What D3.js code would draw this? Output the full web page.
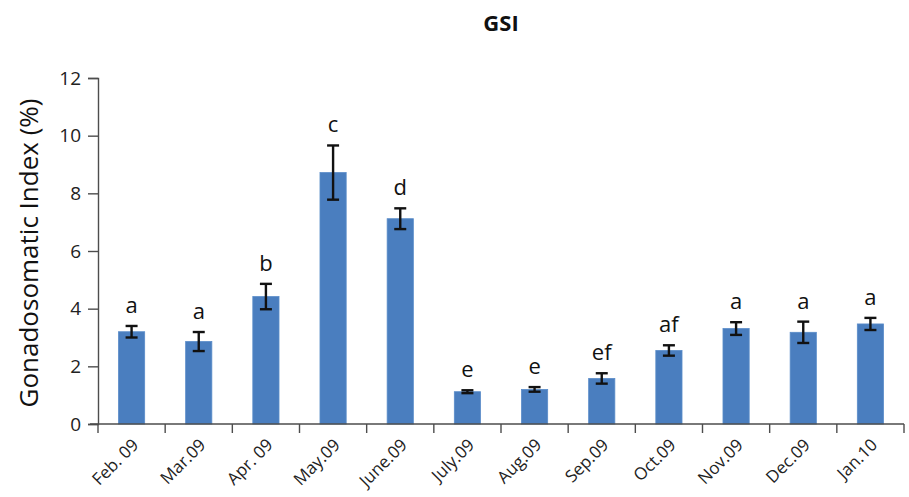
<!DOCTYPE html>
<html><head><meta charset="utf-8">
<script src="https://cdn.jsdelivr.net/npm/d3@7"></script>
<style>body{margin:0;background:#fff}svg{display:block}</style>
</head><body>
<svg id="c" width="909" height="497"></svg>
<script>
const categories = ["Feb. 09","Mar.09","Apr. 09","May.09","June.09","July.09","Aug.09","Sep.09","Oct.09","Nov.09","Dec.09","Jan.10"];
const values = [3.2, 2.86, 4.42, 8.72, 7.12, 1.12, 1.2, 1.58, 2.55, 3.31, 3.18, 3.47];
const errors = [0.2, 0.33, 0.44, 0.94, 0.36, 0.05, 0.08, 0.18, 0.18, 0.22, 0.37, 0.21];
const letters = ["a","a","b","c","d","e","e","ef","af","a","a","a"];
const yTicks = [0, 2, 4, 6, 8, 10, 12];

const svg = d3.select("#c");
const m = {l: 98, r: 904, t: 78, b: 424};
const x = d3.scaleBand().domain(categories).range([m.l, m.r]).paddingInner(0.61).paddingOuter(0.305);
const y = d3.scaleLinear().domain([0, 12]).range([m.b, m.t]);
const font = "'Open Sans', 'Liberation Sans', sans-serif";
const axisColor = "#4d4d4d";

// Bars
svg.append("g").selectAll("rect").data(values).join("rect")
  .attr("x", (d, i) => x(categories[i]))
  .attr("width", x.bandwidth())
  .attr("y", d => y(d))
  .attr("height", d => y(0) - y(d))
  .attr("fill", "#4a7ebf")
  .attr("stroke", "#5a8cc9").attr("stroke-width", 0.8);

// Error bars
const eb = svg.append("g").attr("stroke", "#111").attr("stroke-width", 2.4);
values.forEach((v, i) => {
  const cx = x(categories[i]) + x.bandwidth() / 2;
  const top = y(v + errors[i]), bot = y(v - errors[i]);
  eb.append("line").attr("x1", cx).attr("x2", cx).attr("y1", top).attr("y2", bot);
  eb.append("line").attr("x1", cx - 6).attr("x2", cx + 6).attr("y1", top).attr("y2", top);
  eb.append("line").attr("x1", cx - 6).attr("x2", cx + 6).attr("y1", bot).attr("y2", bot);
});

// Letters
svg.append("g").selectAll("text").data(letters).join("text")
  .attr("x", (d, i) => x(categories[i]) + x.bandwidth() / 2)
  .attr("y", (d, i) => y(values[i] + errors[i]) - 13)
  .attr("text-anchor", "middle")
  .attr("font-family", font).attr("font-size", 22).attr("fill", "#111")
  .text(d => d);

// Y axis
const ya = svg.append("g").attr("transform", `translate(${m.l},0)`)
  .call(d3.axisLeft(y).tickValues(yTicks).tickSize(10).tickPadding(7).tickFormat(d3.format("d")));
ya.select(".domain").attr("stroke", axisColor).attr("stroke-width", 1.4);
ya.selectAll(".tick line").attr("stroke", axisColor).attr("stroke-width", 1.4);
ya.selectAll(".tick text").attr("font-family", font).attr("font-size", 19).attr("fill", "#222");

// X axis
const tickPos = categories.map(c => x(c) - x.step() * x.paddingInner() / 2).concat([m.r]);
svg.append("line").attr("x1", m.l - 8).attr("x2", m.r).attr("y1", m.b).attr("y2", m.b)
  .attr("stroke", axisColor).attr("stroke-width", 1.4);
svg.append("g").selectAll("line").data(tickPos).join("line")
  .attr("x1", d => d).attr("x2", d => d).attr("y1", m.b).attr("y2", m.b + 9)
  .attr("stroke", axisColor).attr("stroke-width", 1.4);
svg.append("g").selectAll("text").data(categories).join("text")
  .attr("transform", c => `translate(${x(c) + x.bandwidth() / 2 + 8},${m.b + 22}) rotate(-45)`)
  .attr("text-anchor", "end")
  .attr("font-family", font).attr("font-size", 17).attr("fill", "#222")
  .text(c => c);

// Y label
svg.append("text")
  .attr("transform", `translate(38,${(m.t + m.b) / 2 + 2}) rotate(-90)`)
  .attr("text-anchor", "middle")
  .attr("font-family", font).attr("font-size", 26).attr("fill", "#111")
  .text("Gonadosomatic Index (%)");

// Title
svg.append("text").attr("x", 501).attr("y", 31).attr("text-anchor", "middle")
  .attr("font-family", font).attr("font-weight", "bold").attr("font-size", 22).attr("fill", "#111")
  .text("GSI");
</script>
</body></html>
